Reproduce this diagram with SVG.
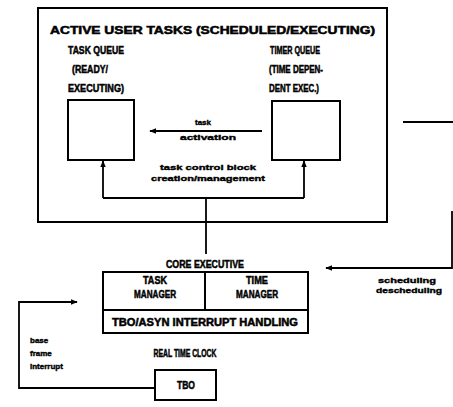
<svg xmlns="http://www.w3.org/2000/svg" width="453" height="407" viewBox="0 0 453 407">
<defs>
<marker id="ah" viewBox="0 0 10 10" refX="9" refY="5" markerWidth="4" markerHeight="4" orient="auto" markerUnits="strokeWidth">
<path d="M0,1 L10,5 L0,9 Z" fill="#000"/>
</marker>
<style>
.box{fill:none;stroke:#000;stroke-width:2}
.ln{fill:none;stroke:#000;stroke-width:1.8}
.cap{font-family:"Liberation Sans",Arial,sans-serif;font-weight:bold;font-size:10.5px;fill:#000;stroke:#000;stroke-width:0.5}
.sm{font-family:"Liberation Sans",Arial,sans-serif;font-weight:bold;font-size:8px;fill:#000;stroke:#000;stroke-width:0.4}
</style>
</defs>
<rect width="453" height="407" fill="#fff"/>
<g id="active-user-tasks">
<rect class="box" x="38" y="8" width="349" height="214"/>
<text class="cap" x="50" y="34" textLength="325" lengthAdjust="spacingAndGlyphs">ACTIVE USER TASKS (SCHEDULED/EXECUTING)</text>
</g>
<g id="task-queue">
<text class="cap" x="68" y="54" textLength="56" lengthAdjust="spacingAndGlyphs">TASK QUEUE</text>
<text class="cap" x="72" y="73" textLength="36" lengthAdjust="spacingAndGlyphs">(READY/</text>
<text class="cap" x="68" y="92" textLength="56" lengthAdjust="spacingAndGlyphs">EXECUTING)</text>
<rect class="box" x="68" y="100" width="66" height="60"/>
</g>
<g id="timer-queue">
<text class="cap" x="270" y="54" textLength="50" lengthAdjust="spacingAndGlyphs">TIMER QUEUE</text>
<text class="cap" x="269" y="73" textLength="54" lengthAdjust="spacingAndGlyphs">(TIME DEPEN-</text>
<text class="cap" x="269" y="92" textLength="50" lengthAdjust="spacingAndGlyphs">DENT EXEC.)</text>
<rect class="box" x="272" y="101" width="68" height="59"/>
</g>
<g id="core-executive">
<text class="cap" x="205" y="268" text-anchor="middle" textLength="78" lengthAdjust="spacingAndGlyphs">CORE EXECUTIVE</text>
<rect class="box" x="103" y="272" width="205" height="61"/>
<line class="box" x1="103" y1="310" x2="308" y2="310"/>
<line class="box" x1="205" y1="272" x2="205" y2="310"/>
<text class="cap" x="155" y="284" text-anchor="middle" textLength="24" lengthAdjust="spacingAndGlyphs">TASK</text>
<text class="cap" x="155" y="298" text-anchor="middle" textLength="42" lengthAdjust="spacingAndGlyphs">MANAGER</text>
<text class="cap" x="257" y="284" text-anchor="middle" textLength="22" lengthAdjust="spacingAndGlyphs">TIME</text>
<text class="cap" x="257" y="298" text-anchor="middle" textLength="42" lengthAdjust="spacingAndGlyphs">MANAGER</text>
<text class="cap" x="205" y="326" text-anchor="middle" textLength="186" lengthAdjust="spacingAndGlyphs">TBO/ASYN INTERRUPT HANDLING</text>
</g>
<g id="real-time-clock">
<text class="cap" x="185" y="357" text-anchor="middle" textLength="63" lengthAdjust="spacingAndGlyphs">REAL TIME CLOCK</text>
<rect class="box" x="155" y="370" width="61" height="30"/>
<text class="cap" x="186" y="389" text-anchor="middle" textLength="18" lengthAdjust="spacingAndGlyphs">TBO</text>
</g>
<g id="connectors">
<line class="ln" x1="262" y1="131" x2="150" y2="131" marker-end="url(#ah)"/>
<text class="sm" x="203" y="125" text-anchor="middle">task</text>
<text class="sm" x="208" y="140" text-anchor="middle" textLength="56" lengthAdjust="spacingAndGlyphs">activation</text>
<path class="ln" d="M103,198 V161" marker-end="url(#ah)"/>
<path class="ln" d="M304,198 V161" marker-end="url(#ah)"/>
<path class="ln" d="M103,198 H304"/>
<line class="ln" x1="206" y1="198" x2="206" y2="254"/>
<text class="sm" x="208" y="170" text-anchor="middle" textLength="96" lengthAdjust="spacingAndGlyphs">task control block</text>
<text class="sm" x="208" y="181" text-anchor="middle" textLength="114" lengthAdjust="spacingAndGlyphs">creation/management</text>
<line class="ln" x1="403" y1="122" x2="453" y2="122"/>
<path class="ln" d="M452,211 V268 H326" marker-end="url(#ah)"/>
<text class="sm" x="378" y="283" textLength="58" lengthAdjust="spacingAndGlyphs">scheduling</text>
<text class="sm" x="376" y="293" textLength="66" lengthAdjust="spacingAndGlyphs">descheduling</text>
<path class="ln" d="M155,388 H19 V302 H77" marker-end="url(#ah)"/>
<text class="sm" x="30" y="343">base</text>
<text class="sm" x="30" y="356">frame</text>
<text class="sm" x="30" y="369">interrupt</text>
</g>
</svg>
